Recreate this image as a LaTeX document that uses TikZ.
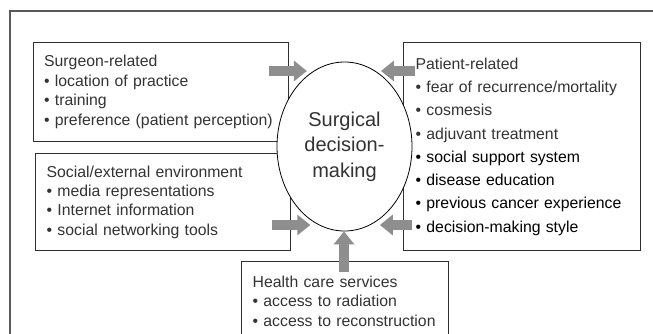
\documentclass[tikz,border=0pt]{standalone}
\usepackage{fontspec}
\setmainfont{Liberation Sans}
\usetikzlibrary{arrows.meta,shapes.geometric}
\definecolor{arrowgray}{HTML}{8E8E8E}
\definecolor{framegray}{HTML}{5A5A5A}
\definecolor{boxline}{HTML}{303030}
\tikzset{
	factorbox/.style={draw=boxline, line width=1.3pt, anchor=north west, align=left, inner xsep=11pt, inner ysep=0pt, text=black!80, font=\fontsize{15.8}{19.5}\selectfont},
	pushar/.style={draw=arrowgray, line width=10pt, -{Triangle[length=13pt,width=20pt]}},
}
\def\dk#1{\textcolor{black}{#1}}

\begin{document}
\begin{tikzpicture}[x=1pt,y=-1pt]
			%%%%% START %%%%%
			
			\clip (0,0) rectangle (653,333);
			
			\draw[framegray, line width=1.2pt] (700,11) -- (10,11) -- (10,400);
			
			\node[factorbox, text width=233pt, minimum height=99pt] (surg) at (32.5,42)
				{Surgeon-related\\ \textbullet\ location of practice\\ \textbullet\ training\\ \textbullet\ preference (patient perception)};
			
			\node[factorbox, text width=233pt, minimum height=97pt, font=\fontsize{15.8}{19.3}\selectfont] (soc) at (35,153)
				{Social/external environment\\ \textbullet\ media representations\\ \textbullet\ Internet information\\ \textbullet\ social networking tools};
			
			\node[factorbox, text width=213pt, inner xsep=12pt, minimum height=208pt, font=\fontsize{15.8}{23.3}\selectfont] (pat) at (403,42)
				{Patient-related\\ \textbullet\ fear of recurrence/mortality\\ \textbullet\ cosmesis\\ \textbullet\ adjuvant treatment\\
				\dk{\textbullet\ social support system}\\ \dk{\textbullet\ disease education}\\ \dk{\textbullet\ previous cancer experience}\\ \dk{\textbullet\ decision-making style}};
			
			\node[factorbox, text width=185pt, minimum height=79pt, font=\fontsize{15.8}{19.7}\selectfont] (hc) at (241,261)
				{Health care services\\ \textbullet\ access to radiation\\ \textbullet\ access to reconstruction};
			
			\node[ellipse, draw, fill=white, line width=0.8pt, minimum width=135pt, minimum height=169pt, inner sep=0pt,
				align=center, text=black!80, font=\fontsize{20}{25.5}\selectfont] (ell) at (344.5,146.5)
				{Surgical\\ decision-\\ making};
			
			\coordinate (sgT) at (269,71);
			\coordinate (soT) at (272,225);
			\coordinate (ptT) at (415,71);
			\coordinate (pbT) at (412,225);
			\coordinate (hcT) at (344,272);
			
			\draw[pushar] (sgT) -- (sgT -| ell.118);
			\draw[pushar] (soT) -- (soT -| ell.-115);
			\draw[pushar] (ptT) -- (ptT -| ell.63);
			\draw[pushar] (pbT) -- (pbT -| ell.-64);
			\draw[pushar] (hcT) -- (hcT |- ell.south);
			
			%%%%% END %%%%%
		\end{tikzpicture}
\end{document}
